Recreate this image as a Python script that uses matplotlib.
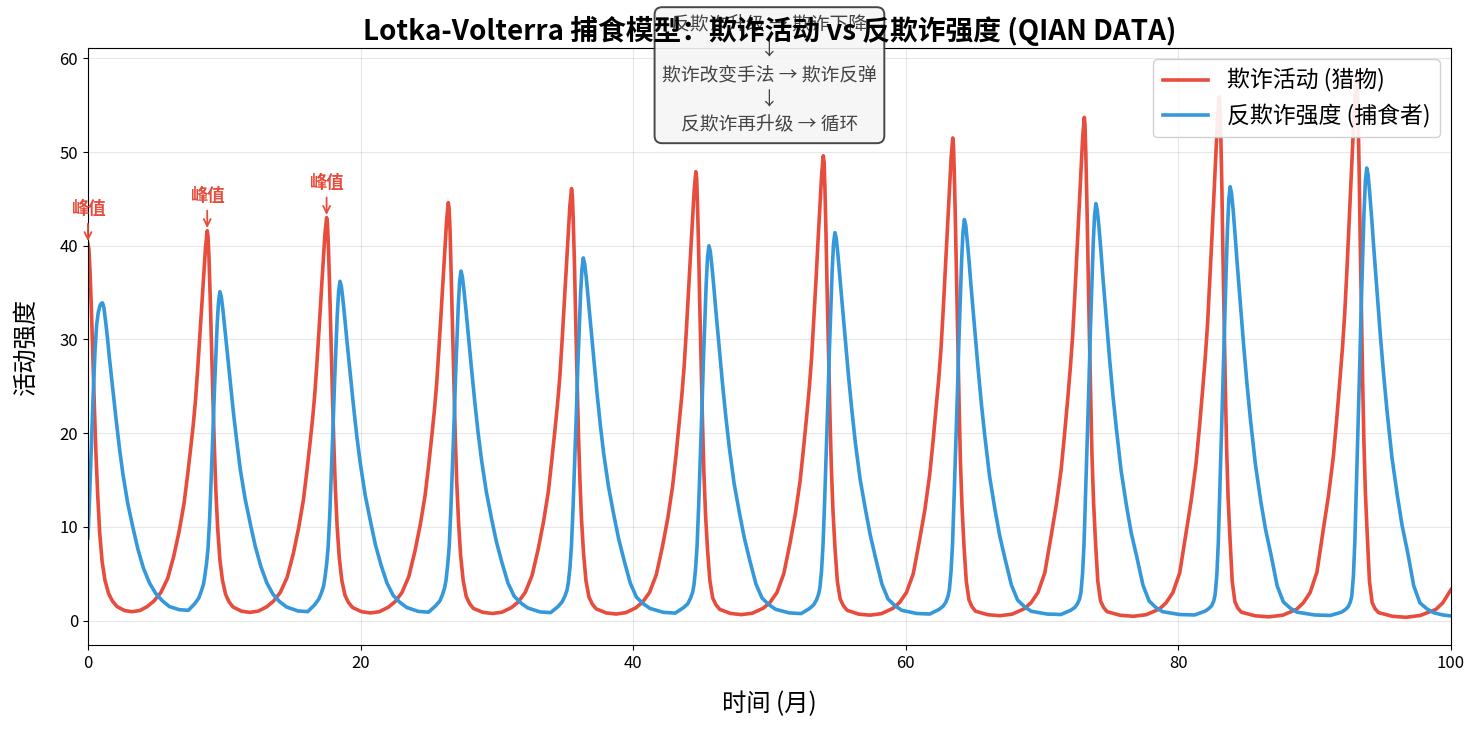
import numpy as np
import matplotlib
matplotlib.use("Agg")
import matplotlib.pyplot as plt

plt.rcParams['font.family'] = ['Noto Sans CJK SC', 'DejaVu Sans']
plt.rcParams['axes.unicode_minus'] = False

# prey (fraud activity), one row per cycle: time in months
prey_t = [
    0.00, 0.07, 0.15, 0.25, 0.36, 0.47, 0.59, 0.72, 0.86, 1.04, 1.25, 1.51, 1.79, 2.13, 2.69, 3.24, 3.80,
    4.35, 4.85, 5.35, 5.85, 6.30, 6.70, 7.05, 7.30, 7.53, 7.72, 7.89, 8.05, 8.21, 8.37, 8.51, 8.63,
    8.75, 8.81, 8.88, 8.97, 9.07, 9.17, 9.28, 9.39, 9.52, 9.68, 9.87, 10.10, 10.35, 10.65, 11.27, 11.88, 12.50,
    13.11, 13.61, 14.11, 14.61, 15.06, 15.46, 15.81, 16.06, 16.29, 16.48, 16.65, 16.81, 16.97, 17.13, 17.27, 17.39,
    17.51, 17.57, 17.64, 17.73, 17.83, 17.93, 18.04, 18.15, 18.28, 18.44, 18.63, 18.86, 19.11, 19.41, 20.07, 20.73, 21.38,
    22.04, 22.54, 23.04, 23.54, 23.99, 24.39, 24.74, 24.99, 25.22, 25.41, 25.58, 25.74, 25.90, 26.06, 26.20, 26.32,
    26.44, 26.50, 26.57, 26.65, 26.75, 26.85, 26.95, 27.06, 27.19, 27.34, 27.53, 27.75, 27.99, 28.28, 28.98, 29.68, 30.38,
    31.08, 31.58, 32.08, 32.58, 33.03, 33.43, 33.78, 34.03, 34.26, 34.45, 34.62, 34.78, 34.94, 35.10, 35.24, 35.36,
    35.48, 35.54, 35.60, 35.69, 35.78, 35.88, 35.98, 36.09, 36.21, 36.36, 36.54, 36.76, 37.00, 37.29, 38.02, 38.75, 39.47,
    40.20, 40.70, 41.20, 41.70, 42.15, 42.55, 42.90, 43.15, 43.38, 43.57, 43.74, 43.90, 44.06, 44.22, 44.36, 44.48,
    44.60, 44.66, 44.72, 44.80, 44.89, 44.99, 45.09, 45.19, 45.31, 45.46, 45.63, 45.84, 46.07, 46.35, 47.15, 47.95, 48.75,
    49.55, 50.05, 50.55, 51.05, 51.50, 51.90, 52.25, 52.50, 52.73, 52.92, 53.09, 53.25, 53.41, 53.57, 53.71, 53.83,
    53.95, 54.01, 54.07, 54.15, 54.24, 54.34, 54.44, 54.54, 54.66, 54.81, 54.98, 55.19, 55.42, 55.70, 56.54, 57.38, 58.21,
    59.05, 59.55, 60.05, 60.55, 61.00, 61.40, 61.75, 62.00, 62.23, 62.42, 62.59, 62.75, 62.91, 63.07, 63.21, 63.33,
    63.45, 63.50, 63.56, 63.64, 63.73, 63.82, 63.92, 64.01, 64.13, 64.27, 64.44, 64.64, 64.86, 65.12, 66.02, 66.91, 67.81,
    68.70, 69.20, 69.70, 70.20, 70.65, 71.05, 71.40, 71.65, 71.88, 72.07, 72.24, 72.40, 72.56, 72.72, 72.86, 72.98,
    73.10, 73.15, 73.21, 73.29, 73.38, 73.47, 73.57, 73.66, 73.78, 73.92, 74.09, 74.29, 74.51, 74.77, 75.73, 76.69, 77.64,
    78.60, 79.10, 79.60, 80.10, 80.55, 80.95, 81.30, 81.55, 81.78, 81.97, 82.14, 82.30, 82.46, 82.62, 82.76, 82.88,
    83.00, 83.05, 83.11, 83.19, 83.27, 83.36, 83.45, 83.54, 83.65, 83.79, 83.95, 84.15, 84.36, 84.62, 85.63, 86.65, 87.66,
    88.67, 89.17, 89.67, 90.17, 90.62, 91.02, 91.37, 91.62, 91.85, 92.04, 92.21, 92.37, 92.53, 92.69, 92.83, 92.95,
    93.07, 93.12, 93.18, 93.26, 93.34, 93.43, 93.52, 93.61, 93.72, 93.86, 94.02, 94.22, 94.43, 94.69, 95.70, 96.70, 97.75,
    98.90, 99.40, 100.0]
prey_v = [
    40.2, 39.6, 37.4, 33.4, 28.1, 22.9, 17.7, 13.3, 9.4, 6.3, 4.3, 2.9, 2.1, 1.5, 1.07, 0.95, 1.07,
    1.5, 2.1, 3.0, 4.5, 6.9, 9.6, 12.5, 15.4, 18.3, 20.8, 23.5, 26.8, 30.4, 34.1, 37.2, 39.9,
    41.6, 41.0, 38.7, 34.5, 29.1, 23.7, 18.3, 13.7, 9.8, 6.5, 4.3, 2.8, 2.0, 1.45, 1.0, 0.88, 1.01,
    1.47, 2.07, 3.0, 4.6, 7.1, 9.9, 12.9, 15.9, 18.9, 21.5, 24.3, 27.7, 31.4, 35.3, 38.5, 41.3,
    43.0, 42.4, 40.0, 35.7, 30.1, 24.5, 18.9, 14.2, 10.1, 6.7, 4.25, 2.7, 1.94, 1.4, 0.95, 0.82, 0.95,
    1.43, 2.03, 3.0, 4.7, 7.4, 10.3, 13.4, 16.5, 19.6, 22.3, 25.2, 28.8, 32.6, 36.6, 39.9, 42.8,
    44.6, 43.9, 41.5, 37.0, 31.2, 25.4, 19.6, 14.7, 10.5, 7.0, 4.27, 2.6, 1.84, 1.3, 0.88, 0.76, 0.9,
    1.4, 2.0, 3.0, 4.8, 7.6, 10.6, 13.8, 17.1, 20.3, 23.1, 26.0, 29.7, 33.7, 37.8, 41.3, 44.3,
    46.1, 45.4, 42.9, 38.3, 32.3, 26.3, 20.3, 15.2, 10.8, 7.2, 4.24, 2.5, 1.77, 1.25, 0.82, 0.70, 0.85,
    1.37, 1.98, 3.0, 4.9, 7.9, 11.0, 14.4, 17.7, 21.1, 24.0, 27.1, 30.9, 35.0, 39.3, 42.9, 46.0,
    47.9, 47.2, 44.5, 39.8, 33.5, 27.3, 21.1, 15.8, 11.3, 7.5, 4.24, 2.4, 1.7, 1.2, 0.76, 0.64, 0.79,
    1.33, 1.96, 3.0, 5.0, 8.2, 11.4, 14.9, 18.4, 21.8, 24.8, 28.0, 32.0, 36.2, 40.7, 44.4, 47.6,
    49.6, 48.9, 46.1, 41.2, 34.7, 28.3, 21.8, 16.4, 11.7, 7.7, 4.2, 2.3, 1.6, 1.1, 0.69, 0.58, 0.74,
    1.3, 1.94, 3.0, 5.0, 8.5, 11.8, 15.5, 19.1, 22.7, 25.8, 29.1, 33.2, 37.6, 42.2, 46.1, 49.4,
    51.5, 50.7, 47.9, 42.7, 36.1, 29.4, 22.7, 17.0, 12.1, 8.0, 4.2, 2.2, 1.48, 1.0, 0.63, 0.52, 0.69,
    1.27, 1.92, 3.0, 5.1, 8.9, 12.4, 16.1, 19.9, 23.6, 26.9, 30.3, 34.6, 39.2, 44.0, 48.1, 51.6,
    53.7, 52.9, 49.9, 44.6, 37.6, 30.6, 23.6, 17.7, 12.6, 8.4, 4.2, 2.1, 1.41, 0.95, 0.57, 0.46, 0.63,
    1.23, 1.9, 3.0, 5.1, 9.2, 12.9, 16.8, 20.7, 24.6, 28.0, 31.6, 36.1, 40.8, 45.8, 50.0, 53.7,
    55.9, 55.1, 52.0, 46.4, 39.1, 31.9, 24.6, 18.4, 13.1, 8.7, 4.2, 2.0, 1.34, 0.9, 0.51, 0.40, 0.58,
    1.2, 1.9, 3.0, 5.2, 9.6, 13.4, 17.5, 21.5, 25.6, 29.1, 32.9, 37.5, 42.5, 47.7, 52.1, 55.9,
    58.2, 57.3, 54.1, 48.3, 40.7, 33.2, 25.6, 19.2, 13.7, 9.1, 4.2, 1.9, 1.27, 0.85, 0.46, 0.35, 0.55,
    1.2, 1.9, 3.3]

# predator (anti-fraud intensity)
pred_t = [
    0.00, 0.10, 0.20, 0.30, 0.39, 0.52, 0.64, 0.76, 0.88, 0.98, 1.07,
    1.17, 1.29, 1.43, 1.57, 1.82, 2.07, 2.32, 2.57, 2.92, 3.32, 3.67, 4.07, 4.52, 4.97, 5.47, 5.97, 6.71, 7.37,
    7.83, 8.13, 8.33, 8.48, 8.58, 8.70, 8.81, 8.93, 9.06, 9.18, 9.28, 9.38, 9.48, 9.58, 9.68,
    9.78, 9.90, 10.04, 10.18, 10.43, 10.68, 10.93, 11.18, 11.53, 11.93, 12.28, 12.68, 13.13, 13.58, 14.08, 14.58, 15.40, 16.13,
    16.64, 16.94, 17.14, 17.29, 17.39, 17.51, 17.62, 17.74, 17.87, 17.99, 18.09, 18.19, 18.29, 18.39, 18.49,
    18.59, 18.71, 18.85, 18.99, 19.24, 19.49, 19.74, 19.99, 20.34, 20.74, 21.09, 21.49, 21.94, 22.39, 22.89, 23.39, 24.24, 24.99,
    25.52, 25.82, 26.02, 26.17, 26.27, 26.39, 26.50, 26.62, 26.75, 26.87, 26.97, 27.07, 27.17, 27.27, 27.37,
    27.47, 27.59, 27.73, 27.87, 28.12, 28.37, 28.62, 28.87, 29.22, 29.62, 29.97, 30.37, 30.82, 31.27, 31.77, 32.27, 33.16, 33.94,
    34.49, 34.79, 34.99, 35.14, 35.24, 35.36, 35.47, 35.59, 35.72, 35.84, 35.94, 36.04, 36.14, 36.24, 36.34,
    36.44, 36.56, 36.70, 36.84, 37.09, 37.34, 37.59, 37.84, 38.19, 38.59, 38.94, 39.34, 39.79, 40.24, 40.74, 41.24, 42.23, 43.09,
    43.71, 44.01, 44.21, 44.36, 44.46, 44.58, 44.69, 44.81, 44.94, 45.06, 45.16, 45.26, 45.36, 45.46, 45.56,
    45.66, 45.78, 45.92, 46.06, 46.31, 46.56, 46.81, 47.06, 47.41, 47.81, 48.16, 48.56, 49.01, 49.46, 49.96, 50.46, 51.46, 52.33,
    52.95, 53.25, 53.45, 53.60, 53.70, 53.82, 53.93, 54.05, 54.18, 54.30, 54.40, 54.50, 54.60, 54.70, 54.80,
    54.90, 55.02, 55.16, 55.30, 55.55, 55.80, 56.05, 56.30, 56.65, 57.05, 57.40, 57.80, 58.25, 58.70, 59.20, 59.70, 60.80, 61.76,
    62.45, 62.75, 62.95, 63.10, 63.20, 63.32, 63.43, 63.55, 63.68, 63.80, 63.90, 64.00, 64.10, 64.20, 64.30,
    64.40, 64.52, 64.66, 64.80, 65.05, 65.30, 65.55, 65.80, 66.15, 66.55, 66.90, 67.30, 67.75, 68.20, 68.70, 69.20, 70.36, 71.38,
    72.10, 72.40, 72.60, 72.75, 72.85, 72.97, 73.08, 73.20, 73.33, 73.45, 73.55, 73.65, 73.75, 73.85, 73.95,
    74.05, 74.17, 74.31, 74.45, 74.70, 74.95, 75.20, 75.45, 75.80, 76.20, 76.55, 76.95, 77.40, 77.85, 78.35, 78.85, 80.09, 81.18,
    81.95, 82.25, 82.45, 82.60, 82.70, 82.82, 82.93, 83.05, 83.18, 83.30, 83.40, 83.50, 83.60, 83.70, 83.80,
    83.90, 84.02, 84.16, 84.30, 84.55, 84.80, 85.05, 85.30, 85.65, 86.05, 86.40, 86.80, 87.25, 87.70, 88.20, 88.70, 90.01, 91.15,
    91.97, 92.27, 92.47, 92.62, 92.72, 92.84, 92.95, 93.07, 93.20, 93.32, 93.42, 93.52, 93.62, 93.72, 93.82,
    93.92, 94.04, 94.18, 94.32, 94.57, 94.82, 95.07, 95.32, 95.67, 96.07, 96.42, 96.82, 97.27, 97.72, 98.22, 98.72, 99.40,
    100.0]
pred_v = [
    8.8, 12.4, 16.5, 20.6, 24.3, 28.8, 31.6, 32.9, 33.6, 33.85, 33.9,
    33.4, 32.0, 30.2, 28.1, 24.7, 21.4, 18.3, 15.6, 12.5, 9.8, 7.6, 5.6, 4.0, 2.9, 2.1, 1.5, 1.16, 1.1,
    1.8, 2.4, 3.2, 3.9, 4.8, 6.1, 7.7, 10.9, 15.8, 20.4, 24.6, 28.1, 31.6, 34.0, 35.1,
    34.6, 33.2, 31.2, 29.1, 25.6, 22.1, 19.0, 16.1, 13.0, 10.2, 7.9, 5.8, 4.0, 2.8, 2.0, 1.45, 1.03, 0.96,
    1.7, 2.3, 3.0, 3.7, 4.6, 6.0, 7.8, 11.2, 16.3, 21.0, 25.3, 29.0, 32.6, 35.1, 36.2,
    35.7, 34.2, 32.2, 30.0, 26.4, 22.8, 19.5, 16.7, 13.4, 10.5, 8.1, 6.0, 4.0, 2.7, 1.94, 1.4, 0.98, 0.9,
    1.6, 2.1, 2.8, 3.5, 4.3, 5.9, 7.8, 11.6, 16.8, 21.6, 26.1, 29.8, 33.6, 36.2, 37.3,
    36.7, 35.2, 33.2, 31.0, 27.2, 23.5, 20.1, 17.2, 13.8, 10.8, 8.4, 6.2, 4.0, 2.6, 1.87, 1.35, 0.93, 0.85,
    1.5, 2.0, 2.6, 3.2, 4.0, 5.6, 7.9, 12.0, 17.4, 22.4, 27.1, 31.0, 34.8, 37.5, 38.7,
    38.1, 36.6, 34.4, 32.1, 28.3, 24.4, 20.9, 17.8, 14.3, 11.2, 8.7, 6.4, 4.0, 2.5, 1.8, 1.3, 0.88, 0.8,
    1.4, 1.8, 2.4, 3.0, 3.8, 5.5, 8.0, 12.4, 18.0, 23.2, 28.0, 32.0, 36.0, 38.8, 40.0,
    39.4, 37.8, 35.6, 33.2, 29.2, 25.2, 21.6, 18.4, 14.6, 11.4, 8.8, 6.4, 3.9, 2.4, 1.7, 1.2, 0.82, 0.75,
    1.3, 1.7, 2.2, 2.8, 3.5, 5.3, 8.1, 12.8, 18.6, 24.0, 29.0, 33.1, 37.3, 40.2, 41.4,
    40.8, 39.1, 36.8, 34.4, 30.2, 26.1, 22.4, 19.0, 15.1, 11.8, 9.1, 6.6, 3.9, 2.3, 1.6, 1.1, 0.76, 0.7,
    1.2, 1.55, 2.0, 2.6, 3.3, 5.2, 8.1, 13.3, 19.3, 24.8, 30.0, 34.2, 38.5, 41.5, 42.8,
    42.2, 40.4, 38.1, 35.5, 31.2, 27.0, 23.1, 19.7, 15.4, 11.8, 9.0, 6.5, 3.8, 2.2, 1.5, 1.0, 0.7, 0.65,
    1.1, 1.4, 1.8, 2.3, 3.0, 5.0, 8.2, 13.8, 20.0, 25.8, 31.2, 35.6, 40.1, 43.2, 44.5,
    43.8, 42.1, 39.6, 36.9, 32.5, 28.0, 24.0, 20.5, 16.0, 12.2, 9.3, 6.8, 3.8, 2.1, 1.4, 0.95, 0.65, 0.6,
    1.0, 1.3, 1.6, 2.1, 2.8, 4.8, 8.3, 14.4, 20.8, 26.9, 32.4, 37.0, 41.7, 44.9, 46.3,
    45.6, 43.8, 41.2, 38.4, 33.8, 29.2, 25.0, 21.3, 16.7, 12.7, 9.7, 7.0, 3.7, 2.0, 1.34, 0.9, 0.6, 0.55,
    0.9, 1.2, 1.5, 2.0, 2.6, 4.7, 8.5, 15.0, 21.7, 28.0, 33.8, 38.6, 43.5, 46.9, 48.3,
    47.6, 45.6, 43.0, 40.1, 35.3, 30.4, 26.1, 22.2, 17.4, 13.3, 10.1, 7.3, 3.7, 1.9, 1.27, 0.85, 0.6,
    0.5]

cycle_text = "反欺诈升级 → 欺诈下降\n↓\n欺诈改变手法 → 欺诈反弹\n↓\n反欺诈再升级 → 循环"

prey_t = np.array(prey_t)
prey_v = np.array(prey_v)

fig, ax = plt.subplots(figsize=(14.83, 7.32), dpi=100)
fig.subplots_adjust(left=0.0593, right=0.9784, top=0.9344, bottom=0.1189)

ax.plot(prey_t, prey_v, color='#e74c3c', linewidth=2.6, label='欺诈活动 (猎物)',
        solid_joinstyle='round')
ax.plot(pred_t, pred_v, color='#3498db', linewidth=2.6, label='反欺诈强度 (捕食者)',
        solid_joinstyle='round')

# mark the first three prey peaks
peak_idx = [0] + [i for i in range(1, len(prey_v) - 1)
                  if prey_v[i] > prey_v[i - 1] and prey_v[i] > prey_v[i + 1]]
for i in peak_idx[:3]:
    ax.annotate('峰值', xy=(prey_t[i], prey_v[i]), xytext=(prey_t[i], prey_v[i] + 3.7),
                ha='center', va='center', fontsize=12.5, fontweight='bold',
                color='#e74c3c', annotation_clip=False,
                arrowprops=dict(arrowstyle='->', color='#e74c3c', lw=1.3))

ax.text(50, 58.2, cycle_text, ha='center', va='center', fontsize=13.5,
        color='#444444', linespacing=1.25, clip_on=False,
        bbox=dict(boxstyle='round,pad=0.4', facecolor='#f5f5f5',
                  edgecolor='#333333', linewidth=1.4, alpha=0.9))

ax.set_xlim(0, 100)
ax.set_ylim(-2.6, 61.1)
ax.set_xlabel('时间 (月)', fontsize=17.5, labelpad=14)
ax.set_ylabel('活动强度', fontsize=17.5, labelpad=15)
ax.set_title('Lotka-Volterra 捕食模型：欺诈活动 vs 反欺诈强度 (QIAN DATA)',
             fontsize=20, fontweight='bold')
ax.tick_params(labelsize=12)
ax.grid(True, alpha=0.3)
ax.legend(loc='upper right', fontsize=16.5, framealpha=0.9)

fig.savefig('out.png', dpi=100)
